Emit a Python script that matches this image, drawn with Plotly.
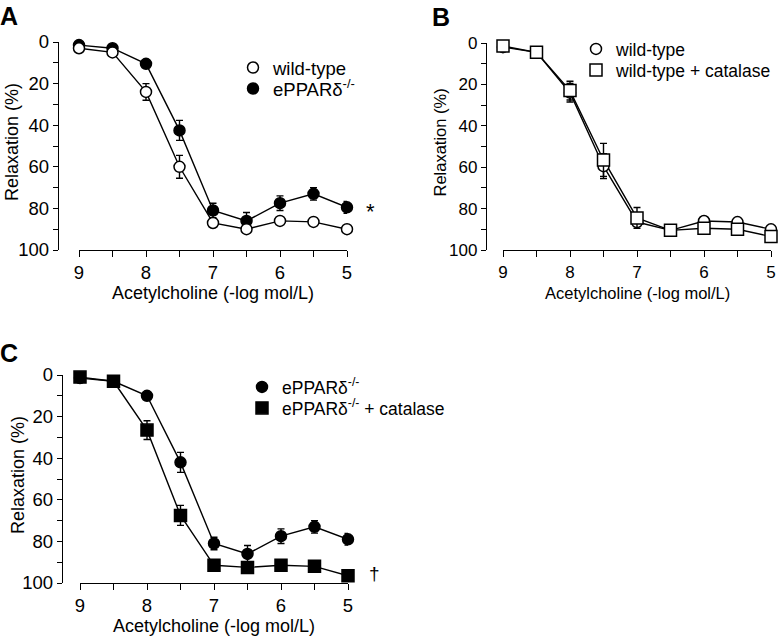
import plotly.graph_objects as go

# ---------------- data ----------------
conc = [9, 8.5, 8, 7.5, 7, 6.5, 6, 5.5, 5]          # Acetylcholine (-log mol/L)
x_ticks = [9, 8, 7, 6, 5]

# Panel A
a_wt = [3, 5, 24, 60, 87, 90, 86, 86.5, 90]
a_wt_err = [1, 1, 4, 5.5, 1.5, 1.5, 1.5, 1.5, 1.5]
a_ko = [1.5, 3, 10.5, 42.5, 81, 86, 77.5, 73, 79.5]
a_ko_err = [1, 1, 1.5, 4.8, 3.5, 4, 3.5, 3, 2.8]

# Panel B
b_wt = [2, 4.5, 24, 59.5, 86.5, 90.5, 86, 86.5, 90]
b_wt_err = [1.5, 1.5, 4.5, 6, 2, 1.5, 2, 1.5, 1.5]
b_cat = [1.5, 4.5, 23, 56.5, 84.5, 90.5, 89.5, 90, 93.5]
b_cat_err = [1, 1, 4.5, 8, 5, 1.5, 1.5, 1.5, 1.5]

# Panel C
c_ko = [1.5, 3, 10, 42, 81, 86, 77.5, 73, 79]
c_ko_err = [1, 1, 1.5, 4.8, 3, 4, 3.5, 3, 2.8]
c_cat = [1, 3, 26.5, 67.5, 91.5, 92.5, 91.5, 92, 96.5]
c_cat_err = [1, 1, 4.5, 4.8, 1.5, 1.5, 1.5, 1.5, 1.5]

KO = "ePPARδ<sup>-/-</sup>"
labels = {
    "a_wt": "wild-type", "a_ko": KO,
    "b_wt": "wild-type", "b_cat": "wild-type + catalase",
    "c_ko": KO, "c_cat": KO + " + catalase",
}

# ---------------- layout helpers ----------------
W, H = 778, 636
FONT = "Arial, Liberation Sans, Helvetica, sans-serif"


def fx(px):
    return px / W


def fy(py):
    return 1 - py / H


fig = go.Figure()

series = [
    # (axes, y, err, symbol, fill, label key, legend)
    ("x", "y", a_ko, a_ko_err, "circle", "black", "a_ko", "legend2"),
    ("x", "y", a_wt, a_wt_err, "circle", "white", "a_wt", "legend"),
    ("x2", "y2", b_wt, b_wt_err, "circle", "white", "b_wt", "legend3"),
    ("x2", "y2", b_cat, b_cat_err, "square", "white", "b_cat", "legend4"),
    ("x3", "y3", c_ko, c_ko_err, "circle", "black", "c_ko", "legend5"),
    ("x3", "y3", c_cat, c_cat_err, "square", "black", "c_cat", "legend6"),
]

# connecting lines first (behind all markers)
for xa, ya, yv, ev, sym, fill, key, lg in series:
    fig.add_trace(go.Scatter(
        x=conc, y=yv, xaxis=xa, yaxis=ya, mode="lines",
        line=dict(color="black", width=1.4), showlegend=False,
        hoverinfo="skip"))

# markers with error bars
for xa, ya, yv, ev, sym, fill, key, lg in series:
    fig.add_trace(go.Scatter(
        x=conc, y=yv, xaxis=xa, yaxis=ya, mode="markers",
        name=labels[key], legend=lg,
        marker=dict(symbol=sym, size=11 if sym == "circle" else 12,
                    color=fill, line=dict(color="black", width=1.5)),
        error_y=dict(type="data", array=ev, color="black",
                     thickness=1.4, width=3.5),
        cliponaxis=False))

tickfont_ac = dict(family=FONT, size=18.5, color="black")
tickfont_b = dict(family=FONT, size=17, color="black")


def xaxis_cfg(domain, anchor, tf):
    return dict(domain=domain, anchor=anchor, range=[9, 5],
                tickvals=x_ticks, ticks="outside", ticklen=6, tickwidth=1.3,
                tickcolor="black", showline=True, linecolor="black",
                linewidth=1.3, showgrid=False, zeroline=False, tickfont=tf,
                minor=dict(dtick=0.5, tick0=5, ticks="outside", ticklen=6,
                           tickwidth=1.3, tickcolor="black", showgrid=False))


def yaxis_cfg(domain, pos, tf):
    return dict(domain=domain, anchor="free", position=pos, range=[100, 0],
                dtick=20, tick0=0, ticks="outside", ticklen=5, tickwidth=1.3,
                tickcolor="black", showline=True, linecolor="black",
                linewidth=1.3, showgrid=False, zeroline=False, tickfont=tf,
                minor=dict(dtick=10, ticks="outside", ticklen=5,
                           tickwidth=1.3, tickcolor="black", showgrid=False))


panels = {
    "A": dict(x0=79, x1=347, y0=42, y1=250, ypos=58),
    "B": dict(x0=503, x1=771, y0=43, y1=250, ypos=486),
    "C": dict(x0=80, x1=348, y0=375, y1=583, ypos=62),
}

pA, pB, pC = panels["A"], panels["B"], panels["C"]
layout = dict(
    width=W, height=H,
    margin=dict(l=0, r=0, t=0, b=0, pad=0, autoexpand=False),
    paper_bgcolor="white", plot_bgcolor="white",
    font=dict(family=FONT, color="black"),
    xaxis=xaxis_cfg([fx(pA["x0"]), fx(pA["x1"])], "y", tickfont_ac),
    yaxis=yaxis_cfg([fy(pA["y1"]), fy(pA["y0"])], fx(pA["ypos"]), tickfont_ac),
    xaxis2=xaxis_cfg([fx(pB["x0"]), fx(pB["x1"])], "y2", tickfont_b),
    yaxis2=yaxis_cfg([fy(pB["y1"]), fy(pB["y0"])], fx(pB["ypos"]), tickfont_b),
    xaxis3=xaxis_cfg([fx(pC["x0"]), fx(pC["x1"])], "y3", tickfont_ac),
    yaxis3=yaxis_cfg([fy(pC["y1"]), fy(pC["y0"])], fx(pC["ypos"]), tickfont_ac),
)

# one legend per entry so rows sit exactly where the reference has them
leg_pos = {
    "legend": (273, 68, 18.5), "legend2": (273, 89, 18.5),
    "legend3": (616, 49, 17.5), "legend4": (616, 70, 17.5),
    "legend5": (282, 387, 17.5), "legend6": (282, 408, 17.5),
}
for name, (tx, ty, fs) in leg_pos.items():
    layout[name] = dict(x=fx(tx - 40), y=fy(ty), xanchor="left",
                        yanchor="middle", bgcolor="rgba(0,0,0,0)",
                        borderwidth=0, font=dict(family=FONT, size=fs,
                                                 color="black"))

fig.update_layout(**layout)

annotations = []
# panel letters
for letter, (lx, ly) in {"A": (9, 16), "B": (441, 17), "C": (9, 353)}.items():
    annotations.append(dict(text=f"<b>{letter}</b>", x=fx(lx), y=fy(ly),
                            xref="paper", yref="paper", showarrow=False,
                            xanchor="center", yanchor="middle",
                            font=dict(family=FONT, size=25, color="black")))

# axis titles
for p, size, tx in [(pA, 18, 12), (pB, 16.5, 439), (pC, 18, 18)]:
    annotations.append(dict(text="Relaxation (%)", textangle=-90,
                            x=fx(tx), y=fy((p["y0"] + p["y1"]) / 2 - 4),
                            xref="paper", yref="paper", showarrow=False,
                            xanchor="center", yanchor="middle",
                            font=dict(family=FONT, size=size, color="black")))
    annotations.append(dict(text="Acetylcholine (-log mol/L)",
                            x=fx((p["x0"] + p["x1"]) / 2), y=fy(p["y1"] + 43),
                            xref="paper", yref="paper", showarrow=False,
                            xanchor="center", yanchor="middle",
                            font=dict(family=FONT, size=size, color="black")))

# significance marks
annotations.append(dict(text="*", x=fx(370), y=fy(211), xref="paper",
                        yref="paper", showarrow=False, xanchor="center",
                        yanchor="middle",
                        font=dict(family=FONT, size=22, color="black")))
annotations.append(dict(text="†", x=fx(374), y=fy(573), xref="paper",
                        yref="paper", showarrow=False, xanchor="center",
                        yanchor="middle",
                        font=dict(family=FONT, size=19, color="black")))

fig.update_layout(annotations=annotations)

fig.write_html(
    "out.html",
    config={"displayModeBar": False},
    post_script="document.body.style.margin='0';"
                "document.body.style.overflow='hidden';",
)
